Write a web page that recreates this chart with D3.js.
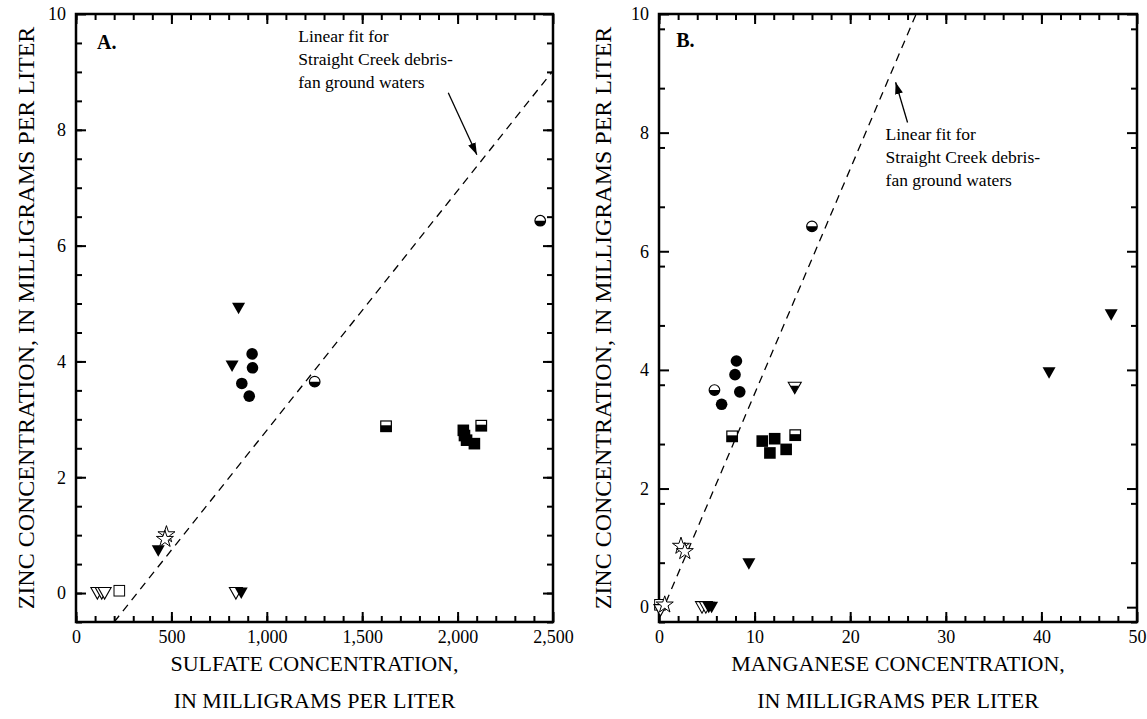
<!DOCTYPE html>
<html>
<head>
<meta charset="utf-8">
<script src="https://cdn.jsdelivr.net/npm/d3@7"></script>
<style>
body { margin: 0; background: #fff; }
text { font-family: "Liberation Serif", "Times New Roman", serif; fill: #000; }
</style>
</head>
<body>
<svg id="chart"></svg>
<script>
// panel A: zinc vs sulfate (mg/L), [x, y]
const sulfateCircle = [[923, 4.13], [925, 3.89], [869, 3.62], [908, 3.40]];
const sulfateHalfCircle = [[1251, 3.65], [2433, 6.43]];
const sulfateSquare = [[2030, 2.81], [2036, 2.72], [2047, 2.64], [2088, 2.58]];
const sulfateHalfSquare = [[1625, 2.88], [2124, 2.89]];
const sulfateOpenSquare = [[227, 0.04]];
const sulfateTriangle = [[852, 4.92], [818, 3.92], [431, 0.73], [866, 0.0]];
const sulfateOpenTriangle = [[112, 0.0], [135, 0.0], [150, 0.0], [838, 0.0]];
const sulfateStar = [[474, 1.01], [466, 0.93]];
const sulfateFit = [[200, -0.5], [2500, 9.02]];

// panel B: zinc vs manganese (mg/L), [x, y]
const manganeseCircle = [[8.1, 4.15], [7.95, 3.92], [8.45, 3.63], [6.55, 3.42]];
const manganeseHalfCircle = [[5.8, 3.66], [16.0, 6.42]];
const manganeseSquare = [[10.8, 2.80], [12.1, 2.84], [11.6, 2.60], [13.3, 2.66]];
const manganeseHalfSquare = [[7.65, 2.88], [14.25, 2.90]];
const manganeseOpenSquare = [[0.1, 0.04]];
const manganeseTriangle = [[47.3, 4.93], [40.8, 3.95], [9.4, 0.73], [5.2, 0.0], [5.5, 0.0]];
const manganeseHalfTriangle = [[14.2, 3.70]];
const manganeseOpenTriangle = [[4.5, 0.0], [4.9, 0.0], [0.15, -0.05]];
const manganeseStar = [[2.3, 1.03], [2.7, 0.94], [0.6, 0.04]];
const manganeseFit = [[0.16, -0.13], [26.9, 10]];

const sulfateTicks = [0, 500, 1000, 1500, 2000, 2500];
const manganeseTicks = [0, 10, 20, 30, 40, 50];
const zincTicks = [0, 2, 4, 6, 8, 10];
const fitLabel = ["Linear  fit for", "Straight Creek debris-", "fan ground waters"];

const width = 1147, height = 719;
const plotTop = 14, plotBottom = 622;

const svg = d3.select('#chart').attr('width', width).attr('height', height);

svg.append('defs').append('marker')
    .attr('id', 'arrow')
    .attr('viewBox', '0 0 12 8')
    .attr('refX', 12).attr('refY', 4)
    .attr('markerWidth', 12).attr('markerHeight', 8)
    .attr('markerUnits', 'userSpaceOnUse')
    .attr('orient', 'auto')
    .append('path')
    .attr('d', 'M0,0 L12,4 L0,8 Z')
    .attr('fill', '#000');

function drawMarker(g, type, cx, cy) {
    const m = g.append('g').attr('transform', `translate(${cx},${cy})`);
    const tri = 'M-6.5,-5.5 L6.5,-5.5 L0,6 Z';
    if (type === 'circle') {
        m.append('circle').attr('r', 5.8).attr('fill', '#000');
    } else if (type === 'halfCircle') {
        m.append('circle').attr('r', 5.3).attr('fill', '#fff').attr('stroke', '#000').attr('stroke-width', 1.2);
        m.append('path').attr('d', 'M-5.3,0 A5.3,5.3 0 0,0 5.3,0 Z').attr('fill', '#000');
    } else if (type === 'square') {
        m.append('rect').attr('x', -5.8).attr('y', -5.8).attr('width', 11.6).attr('height', 11.6).attr('fill', '#000');
    } else if (type === 'halfSquare') {
        m.append('rect').attr('x', -5.3).attr('y', -5.3).attr('width', 10.6).attr('height', 10.6)
            .attr('fill', '#fff').attr('stroke', '#000').attr('stroke-width', 1.2);
        m.append('rect').attr('x', -5.3).attr('y', -1).attr('width', 10.6).attr('height', 6.3).attr('fill', '#000');
    } else if (type === 'openSquare') {
        m.append('rect').attr('x', -5.3).attr('y', -5.3).attr('width', 10.6).attr('height', 10.6)
            .attr('fill', '#fff').attr('stroke', '#000').attr('stroke-width', 1);
    } else if (type === 'triangle') {
        m.append('path').attr('d', tri).attr('fill', '#000');
    } else if (type === 'openTriangle') {
        m.append('path').attr('d', tri).attr('fill', '#fff').attr('stroke', '#000').attr('stroke-width', 1.1);
    } else if (type === 'halfTriangle') {
        m.append('path').attr('d', tri).attr('fill', '#fff').attr('stroke', '#000').attr('stroke-width', 1.1);
        m.append('path').attr('d', 'M-4.3,-2 L4.3,-2 L0,6 Z').attr('fill', '#000');
    } else if (type === 'star') {
        m.append('path').attr('d', d3.symbol(d3.symbolStar, 90)())
            .attr('fill', '#fff').attr('stroke', '#000').attr('stroke-width', 1);
    }
}

function drawPanel(cfg) {
    const g = svg.append('g');
    const x = d3.scaleLinear().domain(cfg.xDomain).range([cfg.left, cfg.right]);
    const y = d3.scaleLinear().domain(cfg.yDomain).range([plotBottom, plotTop]);

    const styleAxis = sel => {
        sel.select('.domain').remove();
        sel.selectAll('line').attr('stroke', '#000').attr('stroke-width', 2);
        sel.selectAll('text').attr('font-size', 18).attr('fill', '#000');
        sel.attr('font-family', null).attr('font-size', null);
    };

    // major + minor ticks on all four sides, pointing inward
    const xMinor = d3.range(cfg.xDomain[0], cfg.xDomain[1], cfg.xMinor);
    g.append('g').attr('transform', `translate(0,${plotBottom})`)
        .call(d3.axisBottom(x).tickValues(cfg.xTicks).tickSize(-10).tickPadding(8).tickFormat(d3.format(',')))
        .call(styleAxis);
    g.append('g').attr('transform', `translate(0,${plotBottom})`)
        .call(d3.axisBottom(x).tickValues(xMinor).tickSize(-6).tickFormat(''))
        .call(styleAxis);
    g.append('g').attr('transform', `translate(0,${plotTop})`)
        .call(d3.axisTop(x).tickValues(cfg.xTicks).tickSize(-10).tickFormat(''))
        .call(styleAxis);
    g.append('g').attr('transform', `translate(0,${plotTop})`)
        .call(d3.axisTop(x).tickValues(xMinor).tickSize(-6).tickFormat(''))
        .call(styleAxis);

    const yMinor = d3.range(cfg.yDomain[0], cfg.yDomain[1], cfg.yMinor);
    g.append('g').attr('transform', `translate(${cfg.left},0)`)
        .call(d3.axisLeft(y).tickValues(cfg.yTicks).tickSize(-10).tickPadding(10))
        .call(styleAxis);
    g.append('g').attr('transform', `translate(${cfg.left},0)`)
        .call(d3.axisLeft(y).tickValues(yMinor).tickSize(-6).tickFormat(''))
        .call(styleAxis);
    g.append('g').attr('transform', `translate(${cfg.right},0)`)
        .call(d3.axisRight(y).tickValues(cfg.yTicks).tickSize(-10).tickFormat(''))
        .call(styleAxis);
    g.append('g').attr('transform', `translate(${cfg.right},0)`)
        .call(d3.axisRight(y).tickValues(yMinor).tickSize(-6).tickFormat(''))
        .call(styleAxis);

    g.append('rect')
        .attr('x', cfg.left).attr('y', plotTop)
        .attr('width', cfg.right - cfg.left).attr('height', plotBottom - plotTop)
        .attr('fill', 'none').attr('stroke', '#000').attr('stroke-width', 2.5);

    // linear fit
    g.append('path')
        .datum(cfg.fit)
        .attr('d', d3.line().x(d => x(d[0])).y(d => y(d[1])))
        .attr('fill', 'none').attr('stroke', '#000').attr('stroke-width', 1.3)
        .attr('stroke-dasharray', '8,6');

    cfg.series.forEach(s => {
        s.data.forEach(d => drawMarker(g, s.type, x(d[0]), y(d[1])));
    });

    // fit annotation
    const note = g.append('text').attr('font-size', 17.5);
    fitLabel.forEach((t, i) => {
        note.append('tspan')
            .attr('x', x(cfg.noteAt[0]))
            .attr('y', y(cfg.noteAt[1]) + i * 23)
            .text(t);
    });
    g.append('line')
        .attr('x1', x(cfg.arrow[0][0])).attr('y1', y(cfg.arrow[0][1]))
        .attr('x2', x(cfg.arrow[1][0])).attr('y2', y(cfg.arrow[1][1]))
        .attr('stroke', '#000').attr('stroke-width', 1.3)
        .attr('marker-end', 'url(#arrow)');

    g.append('text')
        .attr('x', x(cfg.tagAt[0])).attr('y', y(cfg.tagAt[1]))
        .attr('font-size', 20).attr('font-weight', 'bold')
        .text(cfg.tag);

    // axis titles
    g.append('text')
        .attr('transform', `translate(${cfg.left - cfg.titleGap},318) rotate(-90)`)
        .attr('text-anchor', 'middle').attr('dy', '0.35em')
        .attr('font-size', 24)
        .text('ZINC CONCENTRATION, IN MILLIGRAMS PER LITER');
    const mid = (cfg.left + cfg.right) / 2;
    g.append('text').attr('x', mid).attr('y', 671)
        .attr('text-anchor', 'middle').attr('font-size', 22)
        .text(cfg.xTitle);
    g.append('text').attr('x', mid).attr('y', 708)
        .attr('text-anchor', 'middle').attr('font-size', 22)
        .text('IN MILLIGRAMS PER LITER');
}

drawPanel({
    left: 76, right: 553, titleGap: 50,
    xDomain: [0, 2500], xTicks: sulfateTicks, xMinor: 100,
    yDomain: [-0.5, 10], yTicks: zincTicks, yMinor: 0.5,
    fit: sulfateFit,
    series: [
        {type: 'circle', data: sulfateCircle},
        {type: 'halfCircle', data: sulfateHalfCircle},
        {type: 'square', data: sulfateSquare},
        {type: 'halfSquare', data: sulfateHalfSquare},
        {type: 'openSquare', data: sulfateOpenSquare},
        {type: 'openTriangle', data: sulfateOpenTriangle},
        {type: 'triangle', data: sulfateTriangle},
        {type: 'star', data: sulfateStar}
    ],
    noteAt: [1165, 9.52], arrow: [[1951, 8.64], [2101, 7.57]],
    tag: 'A.', tagAt: [110, 9.4],
    xTitle: 'SULFATE CONCENTRATION,'
});

drawPanel({
    left: 659, right: 1137, titleGap: 56,
    xDomain: [0, 50], xTicks: manganeseTicks, xMinor: 2,
    yDomain: [-0.25, 10], yTicks: zincTicks, yMinor: 1,
    fit: manganeseFit,
    series: [
        {type: 'circle', data: manganeseCircle},
        {type: 'halfCircle', data: manganeseHalfCircle},
        {type: 'square', data: manganeseSquare},
        {type: 'halfSquare', data: manganeseHalfSquare},
        {type: 'openSquare', data: manganeseOpenSquare},
        {type: 'openTriangle', data: manganeseOpenTriangle},
        {type: 'triangle', data: manganeseTriangle},
        {type: 'halfTriangle', data: manganeseHalfTriangle},
        {type: 'star', data: manganeseStar}
    ],
    noteAt: [23.7, 7.88], arrow: [[26.0, 8.17], [24.75, 8.85]],
    tag: 'B.', tagAt: [1.8, 9.45],
    xTitle: 'MANGANESE CONCENTRATION,'
});
</script>
</body>
</html>
